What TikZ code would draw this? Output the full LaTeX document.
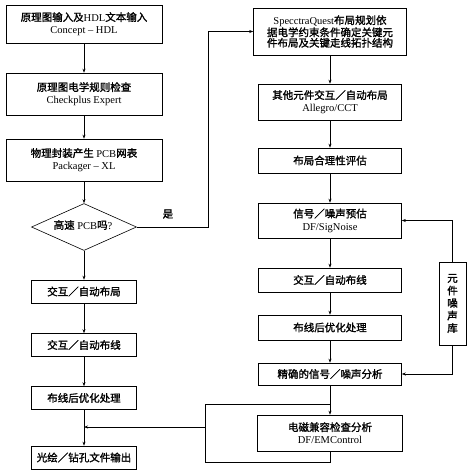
\documentclass[tikz,border=0pt]{standalone}
\usepackage{fontspec}
\setmainfont{Liberation Serif}
\newfontfamily\cjk[FakeBold=1.5]{Noto Sans CJK SC}
\usetikzlibrary{shapes.geometric,arrows.meta}
\newcommand{\zh}[1]{{\cjk #1}}
\tikzset{
  box/.style={draw, line width=0.6pt, rectangle, inner sep=0pt, align=center,
    font=\fontsize{10.5}{12.5}\selectfont},
  arr/.style={line width=0.6pt, -{Stealth[length=4pt,width=3pt]}},
  ln/.style={line width=0.6pt},
}
\begin{document}
\begin{tikzpicture}[x=1pt,y=-1pt]
\useasboundingbox (0,0) rectangle (471,475);
% left column
\node[box, minimum width=156pt, minimum height=38pt] (b1) at (84,24)
  {\zh{原理图输入及}HDL\zh{文本输入}\\Concept -- HDL};
\node[box, minimum width=156pt, minimum height=42pt] (b2) at (84,94)
  {\zh{原理图电学规则检查}\\Checkplus Expert};
\node[box, minimum width=156pt, minimum height=42pt] (b3) at (84,160)
  {\zh{物理封装产生} PCB\zh{网表}\\Packager -- XL};
\node[draw, line width=0.6pt, diamond, aspect=2.2, inner sep=0pt,
  minimum width=105pt, minimum height=47pt] (d) at (84,227) {};
\node[font=\fontsize{10.5}{12.5}\selectfont] (dt) at (83,225) {\zh{高速} PCB\zh{吗}?};
\node[box, minimum width=105pt, minimum height=23pt] (L1) at (84,291.5) {\zh{交互／自动布局}};
\node[box, minimum width=105pt, minimum height=23pt] (L2) at (84,345) {\zh{交互／自动布线}};
\node[box, minimum width=105pt, minimum height=23pt] (L3) at (84,398) {\zh{布线后优化处理}};
\node[box, minimum width=105pt, minimum height=23pt] (L4) at (84,457.5) {\zh{光绘／钻孔文件输出}};
% right column
\node[box, minimum width=153pt, minimum height=47pt, font=\fontsize{10.5}{10.5}\selectfont] (R1) at (330,31.5)
  {SpecctraQuest\zh{布局规划依}\\\zh{据电学约束条件确定关键元}\\\zh{件布局及关键走线拓扑结构}};
\node[box, minimum width=143pt, minimum height=36pt] (R2) at (330,102)
  {\zh{其他元件交互／自动布局}\\Allegro/CCT};
\node[box, minimum width=143pt, minimum height=25pt] (R3) at (330,160.5) {\zh{布局合理性评估}};
\node[box, minimum width=143pt, minimum height=35pt] (R4) at (330,220.5)
  {\zh{信号／噪声预估}\\DF/SigNoise};
\node[box, minimum width=143pt, minimum height=24pt] (R5) at (330,280) {\zh{交互／自动布线}};
\node[box, minimum width=143pt, minimum height=25pt] (R6) at (330,327.5) {\zh{布线后优化处理}};
\node[box, minimum width=143pt, minimum height=22pt] (R7) at (330,374) {\zh{精确的信号／噪声分析}};
\node[box, minimum width=145pt, minimum height=36pt] (R8) at (330,433)
  {\zh{电磁兼容检查分析}\\DF/EMControl};
\node[box, minimum width=27pt, minimum height=83pt, font=\fontsize{10.5}{12.5}\selectfont] (lib) at (452.5,303.5)
  {\zh{元}\\\zh{件}\\\zh{噪}\\\zh{声}\\\zh{库}};
% connectors left
\draw[arr] (b1) -- (b2);
\draw[arr] (b2) -- (b3);
\draw[arr] (b3) -- (d.north);
\draw[arr] (d.south) -- (L1);
\draw[arr] (L1) -- (L2);
\draw[arr] (L2) -- (L3);
\draw[arr] (L3) -- (L4);
% yes branch
\coordinate (yc) at (208,227);
\draw[arr] (d.east) -- (yc) |- (R1.west);
\node[font=\fontsize{10.5}{12.5}\selectfont] (yes) at (168,214) {\zh{是}};
% right connectors
\draw[arr] (R1) -- (R2);
\draw[arr] (R2) -- (R3);
\draw[arr] (R3) -- (R4);
\draw[arr] (R4) -- (R5);
\draw[arr] (R5) -- (R6);
\draw[arr] (R6) -- (R7);
\draw[arr] (R7) -- (R8);
\draw[arr] (lib.north) |- (R4.east);
\draw[arr] (lib.south) |- (R7.east);
% feedback loop
\coordinate (lp1) at (205,404);
\coordinate (lp2) at (205,462);
\coordinate (lp3) at (205,427);
\draw[ln] (R8.south) |- (lp2) -- (lp1) -- (R7.south |- lp1);
\draw[arr] (lp3) -- (L3.south |- lp3);
\end{tikzpicture}
\end{document}
